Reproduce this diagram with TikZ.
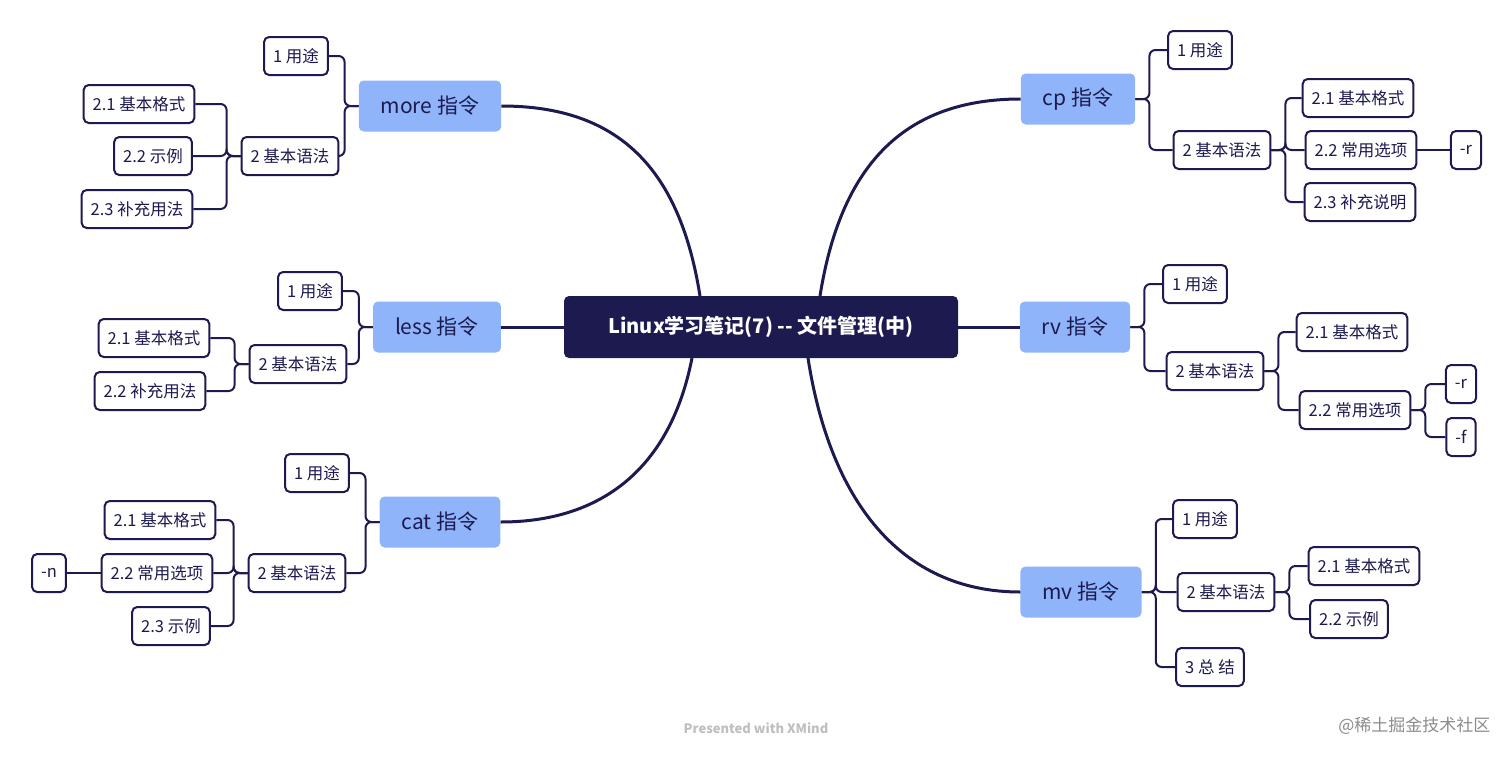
\documentclass[tikz,border=0pt]{standalone}
\usepackage{fontspec}
\setmainfont{Noto Sans CJK SC}
\definecolor{navy}{HTML}{1C1A4F}
\definecolor{lblue}{HTML}{8FB4FA}
\begin{document}
\begin{tikzpicture}[x=1pt,y=-1pt,
  root/.style={fill=navy,rounded corners=5,text=white,font=\fontsize{20}{24}\selectfont\bfseries,minimum width=394,minimum height=62},
  main/.style={fill=lblue,rounded corners=5,text=navy,font=\fontsize{21}{24}\selectfont,minimum height=51,inner xsep=22},
  sub/.style={draw=navy,line width=2,fill=white,rounded corners=5,text=navy,font=\fontsize{16.5}{19}\selectfont,minimum height=38,inner xsep=9},
  big/.style={navy,line width=3},
  br/.style={navy,line width=2,rounded corners=6}]
\fill[white] (0,0) rectangle (1512,758);
\node[root] (c) at (761,327) {Linux学习笔记(7) {-}{-} 文件管理(中)};
\node[main] (more) at (430,106) {more 指令};
\node[main] (less) at (437,327) {less 指令};
\node[main] (cat) at (440,522) {cat 指令};
\node[main] (cp) at (1078,99) {cp 指令};
\node[main] (rv) at (1075,327) {rv 指令};
\node[main] (mv) at (1081,592) {mv 指令};
\draw[big] (700,296) .. controls (680,170) and (620,106) .. (more.east);
\draw[big] (c.west) -- (less.east);
\draw[big] (692,358) .. controls (670,470) and (600,522) .. (cat.east);
\draw[big] (820,296) .. controls (840,170) and (900,99) .. (cp.west);
\draw[big] (c.east) -- (rv.west);
\draw[big] (808,358) .. controls (830,500) and (900,592) .. (mv.west);
% more
\node[sub] (m1) at (296,56) {1 用途};
\node[sub] (m2) at (290,156) {2 基本语法};
\node[sub] (m21) at (139,104) {2.1 基本格式};
\node[sub] (m22) at (153,156) {2.2 示例};
\node[sub] (m23) at (137,209) {2.3 补充用法};
\foreach \ch in {m1,m2} \draw[br] (more.west) -- ++(-14,0) |- (\ch.east);
\foreach \ch in {m21,m22,m23} \draw[br] (m2.west) -- ++(-14,0) |- (\ch.east);
% less
\node[sub] (l1) at (310,291) {1 用途};
\node[sub] (l2) at (298,364) {2 基本语法};
\node[sub] (l21) at (154,338) {2.1 基本格式};
\node[sub] (l22) at (150,391) {2.2 补充用法};
\foreach \ch in {l1,l2} \draw[br] (less.west) -- ++(-14,0) |- (\ch.east);
\foreach \ch in {l21,l22} \draw[br] (l2.west) -- ++(-14,0) |- (\ch.east);
% cat
\node[sub] (a1) at (317,473) {1 用途};
\node[sub] (a2) at (297,573) {2 基本语法};
\node[sub] (a21) at (160,520) {2.1 基本格式};
\node[sub] (a22) at (157,573) {2.2 常用选项};
\node[sub] (a23) at (171,626) {2.3 示例};
\node[sub] (an) at (49,573) {-n};
\foreach \ch in {a1,a2} \draw[br] (cat.west) -- ++(-14,0) |- (\ch.east);
\foreach \ch in {a21,a22,a23} \draw[br] (a2.west) -- ++(-14,0) |- (\ch.east);
\draw[br] (a22.west) -- (an.east);
% cp
\node[sub] (p1) at (1200,50) {1 用途};
\node[sub] (p2) at (1222,150) {2 基本语法};
\node[sub] (p21) at (1358,98) {2.1 基本格式};
\node[sub] (p22) at (1361,150) {2.2 常用选项};
\node[sub] (p23) at (1360,202) {2.3 补充说明};
\node[sub] (pr) at (1466,150) {-r};
\foreach \ch in {p1,p2} \draw[br] (cp.east) -- ++(14,0) |- (\ch.west);
\foreach \ch in {p21,p22,p23} \draw[br] (p2.east) -- ++(14,0) |- (\ch.west);
\draw[br] (p22.east) -- (pr.west);
% rv
\node[sub] (r1) at (1195,284) {1 用途};
\node[sub] (r2) at (1215,371) {2 基本语法};
\node[sub] (r21) at (1352,332) {2.1 基本格式};
\node[sub] (r22) at (1355,410) {2.2 常用选项};
\node[sub] (rr) at (1461,384) {-r};
\node[sub] (rf) at (1461,437) {-f};
\foreach \ch in {r1,r2} \draw[br] (rv.east) -- ++(14,0) |- (\ch.west);
\foreach \ch in {r21,r22} \draw[br] (r2.east) -- ++(14,0) |- (\ch.west);
\foreach \ch in {rr,rf} \draw[br] (r22.east) -- ++(14,0) |- (\ch.west);
% mv
\node[sub] (v1) at (1205,519) {1 用途};
\node[sub] (v2) at (1226,592) {2 基本语法};
\node[sub] (v3) at (1210,667) {3 总 结};
\node[sub] (v21) at (1364,566) {2.1 基本格式};
\node[sub] (v22) at (1349,619) {2.2 示例};
\foreach \ch in {v1,v2,v3} \draw[br] (mv.east) -- ++(14,0) |- (\ch.west);
\foreach \ch in {v21,v22} \draw[br] (v2.east) -- ++(14,0) |- (\ch.west);
\node[text=black!25,font=\fontsize{13}{15}\selectfont\bfseries] (ft) at (756,728) {Presented with XMind};
\node[text=black!45,font=\fontsize{17}{20}\selectfont,anchor=east] (wm) at (1494,726) {@稀土掘金技术社区};
\end{tikzpicture}
\end{document}
